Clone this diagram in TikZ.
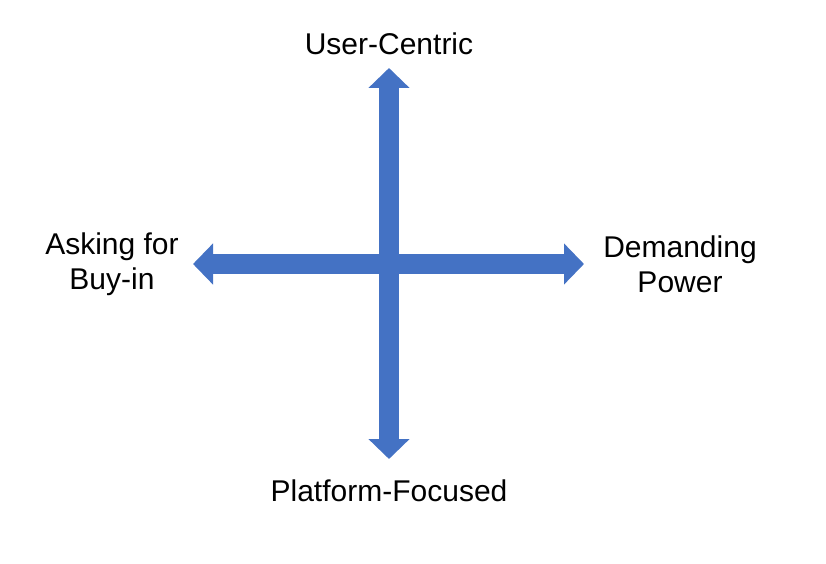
\documentclass[tikz,border=0pt]{standalone}
\usepackage{fontspec}
\setmainfont{Liberation Sans}
\usepackage{tikz}
\usetikzlibrary{arrows.meta}
\definecolor{axisblue}{HTML}{4472C4}
\tikzstyle{axis} = [line width=20pt, axisblue, {Triangle[width=40pt,length=20pt]}-{Triangle[width=40pt,length=20pt]}]
\tikzstyle{lbl} = [text centered, align=center, inner sep=0pt, font=\fontsize{30}{35}\selectfont]

\begin{document}
\begin{tikzpicture}[x=1pt, y=-1pt]
  \useasboundingbox (0,0) rectangle (826,564);

  \coordinate (top) at (389,68);
  \coordinate (bot) at (389,459);
  \coordinate (lt) at (193,264);
  \coordinate (rt) at (584,264);

  \draw [axis] (bot) -- (top);
  \draw [axis] (lt) -- (rt);

  \node (user) [lbl, above of=top, node distance=24pt] {User-Centric};
  \node (platform) [lbl, below of=bot, node distance=32pt] {Platform-Focused};
  \node (buyin) [lbl, left of=lt, node distance=81pt] {Asking for\\Buy-in};
  \node (power) [lbl, right of=rt, node distance=96pt] {Demanding\\Power};
\end{tikzpicture}
\end{document}
